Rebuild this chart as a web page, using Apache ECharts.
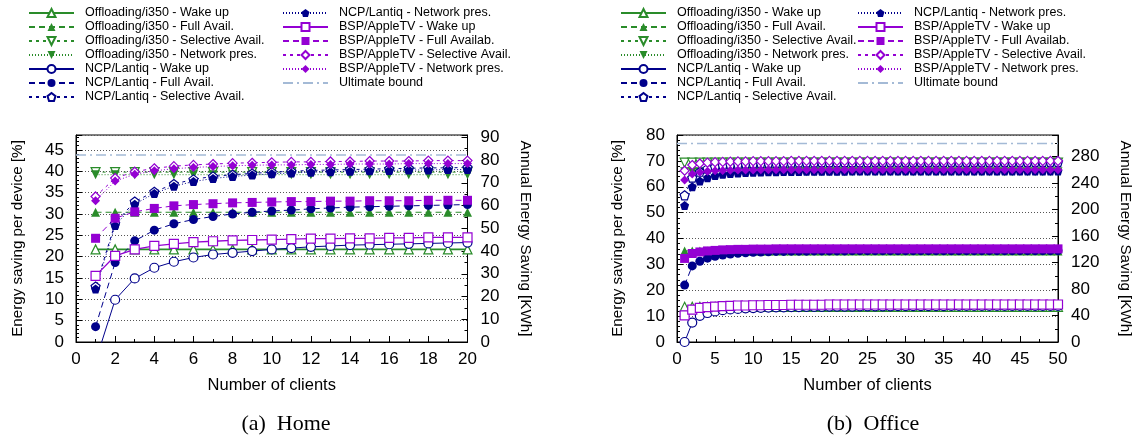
<!DOCTYPE html>
<html>
<head>
<meta charset="utf-8">
<script src="https://cdn.jsdelivr.net/npm/echarts@6/dist/echarts.min.js"></script>
<style>
  html, body { margin: 0; padding: 0; background: #fff; }
  #chart { width: 1140px; height: 442px; }
</style>
</head>
<body>
<div id="chart"></div>
<script>
// ---- data: Home (a) ----
var homeX = [1, 2, 3, 4, 5, 6, 7, 8, 9, 10, 11, 12, 13, 14, 15, 16, 17, 18, 19, 20];
var homeOffWake = [21.7, 21.7, 21.7, 21.7, 21.7, 21.7, 21.7, 21.7, 21.7, 21.7, 21.7, 21.7, 21.7, 21.7, 21.7, 21.7, 21.7, 21.7, 21.7, 21.7];
var homeOffFull = [30.4, 30.4, 30.4, 30.4, 30.4, 30.4, 30.4, 30.4, 30.4, 30.4, 30.4, 30.4, 30.4, 30.4, 30.4, 30.4, 30.4, 30.4, 30.4, 30.4];
var homeOffSel = [39.8, 39.8, 39.8, 39.8, 39.8, 39.8, 39.8, 39.8, 39.8, 39.8, 39.8, 39.8, 39.8, 39.8, 39.8, 39.8, 39.8, 39.8, 39.8, 39.8];
var homeOffNet = [39.2, 39.2, 39.2, 39.2, 39.2, 39.2, 39.2, 39.2, 39.2, 39.2, 39.2, 39.2, 39.2, 39.2, 39.2, 39.2, 39.2, 39.2, 39.2, 39.2];
var homeNcpWake = [-4.5, 9.9, 14.9, 17.4, 18.8, 19.8, 20.5, 20.9, 21.3, 21.7, 22.0, 22.3, 22.5, 22.7, 22.8, 22.9, 23.0, 23.1, 23.2, 23.3];
var homeNcpFull = [3.6, 18.6, 23.7, 26.2, 27.7, 28.7, 29.4, 30.0, 30.4, 30.7, 30.9, 31.2, 31.4, 31.6, 31.7, 31.8, 31.9, 32.0, 32.1, 32.2];
var homeNcpSel = [13.0, 27.8, 32.9, 35.2, 37.0, 38.1, 38.8, 39.2, 39.5, 39.8, 40.0, 40.2, 40.3, 40.4, 40.5, 40.6, 40.7, 40.8, 40.8, 40.9];
var homeNcpNet = [12.4, 27.3, 32.3, 34.8, 36.5, 37.6, 38.3, 38.8, 39.1, 39.4, 39.6, 39.8, 39.9, 40.0, 40.1, 40.2, 40.3, 40.3, 40.4, 40.4];
var homeBspWake = [15.5, 20.2, 21.7, 22.5, 23.0, 23.4, 23.6, 23.8, 23.9, 24.0, 24.1, 24.2, 24.2, 24.3, 24.3, 24.4, 24.4, 24.5, 24.5, 24.5];
var homeBspFull = [24.3, 29.0, 30.5, 31.3, 31.9, 32.2, 32.4, 32.6, 32.7, 32.8, 32.9, 32.9, 33.0, 33.0, 33.1, 33.1, 33.1, 33.2, 33.2, 33.2];
var homeBspSel = [34.1, 38.4, 39.9, 40.7, 41.2, 41.5, 41.7, 41.9, 42.0, 42.1, 42.2, 42.2, 42.3, 42.3, 42.4, 42.4, 42.4, 42.5, 42.5, 42.5];
var homeBspNet = [33.1, 37.7, 39.3, 40.1, 40.6, 40.9, 41.1, 41.3, 41.4, 41.5, 41.5, 41.6, 41.6, 41.7, 41.7, 41.7, 41.8, 41.8, 41.8, 41.8];
var homeBound = 43.8;

// ---- data: Office (b) ----
var officeX = [1, 2, 3, 4, 5, 6, 7, 8, 9, 10,
  11, 12, 13, 14, 15, 16, 17, 18, 19, 20,
  21, 22, 23, 24, 25, 26, 27, 28, 29, 30,
  31, 32, 33, 34, 35, 36, 37, 38, 39, 40,
  41, 42, 43, 44, 45, 46, 47, 48, 49, 50];
var officeOffWake = [13.6, 13.6, 13.6, 13.6, 13.6, 13.6, 13.6, 13.6, 13.6, 13.6,
  13.6, 13.6, 13.6, 13.6, 13.6, 13.6, 13.6, 13.6, 13.6, 13.6,
  13.6, 13.6, 13.6, 13.6, 13.6, 13.6, 13.6, 13.6, 13.6, 13.6,
  13.6, 13.6, 13.6, 13.6, 13.6, 13.6, 13.6, 13.6, 13.6, 13.6,
  13.6, 13.6, 13.6, 13.6, 13.6, 13.6, 13.6, 13.6, 13.6, 13.6];
var officeOffFull = [35.2, 35.2, 35.2, 35.2, 35.2, 35.2, 35.2, 35.2, 35.2, 35.2,
  35.2, 35.2, 35.2, 35.2, 35.2, 35.2, 35.2, 35.2, 35.2, 35.2,
  35.2, 35.2, 35.2, 35.2, 35.2, 35.2, 35.2, 35.2, 35.2, 35.2,
  35.2, 35.2, 35.2, 35.2, 35.2, 35.2, 35.2, 35.2, 35.2, 35.2,
  35.2, 35.2, 35.2, 35.2, 35.2, 35.2, 35.2, 35.2, 35.2, 35.2];
var officeOffSel = [69.3, 69.3, 69.3, 69.3, 69.3, 69.3, 69.3, 69.3, 69.3, 69.3,
  69.3, 69.3, 69.3, 69.3, 69.3, 69.3, 69.3, 69.3, 69.3, 69.3,
  69.3, 69.3, 69.3, 69.3, 69.3, 69.3, 69.3, 69.3, 69.3, 69.3,
  69.3, 69.3, 69.3, 69.3, 69.3, 69.3, 69.3, 69.3, 69.3, 69.3,
  69.3, 69.3, 69.3, 69.3, 69.3, 69.3, 69.3, 69.3, 69.3, 69.3];
var officeOffNet = [65.8, 65.8, 65.8, 65.8, 65.8, 65.8, 65.8, 65.8, 65.8, 65.8,
  65.8, 65.8, 65.8, 65.8, 65.8, 65.8, 65.8, 65.8, 65.8, 65.8,
  65.8, 65.8, 65.8, 65.8, 65.8, 65.8, 65.8, 65.8, 65.8, 65.8,
  65.8, 65.8, 65.8, 65.8, 65.8, 65.8, 65.8, 65.8, 65.8, 65.8,
  65.8, 65.8, 65.8, 65.8, 65.8, 65.8, 65.8, 65.8, 65.8, 65.8];
var officeNcpWake = [0.0, 7.5, 10.1, 11.2, 11.8, 12.3, 12.6, 12.8, 13.0, 13.1,
  13.2, 13.3, 13.4, 13.4, 13.5, 13.5, 13.6, 13.6, 13.6, 13.7,
  13.7, 13.7, 13.7, 13.8, 13.8, 13.8, 13.8, 13.8, 13.9, 13.9,
  13.9, 13.9, 13.9, 13.9, 13.9, 14.0, 14.0, 14.0, 14.0, 14.0,
  14.0, 14.0, 14.0, 14.0, 14.0, 14.0, 14.0, 14.0, 14.0, 14.0];
var officeNcpFull = [22.0, 29.4, 31.2, 32.4, 33.1, 33.6, 34.0, 34.3, 34.5, 34.7,
  34.8, 34.9, 35.0, 35.0, 35.1, 35.1, 35.1, 35.2, 35.2, 35.2,
  35.2, 35.2, 35.3, 35.3, 35.3, 35.3, 35.3, 35.3, 35.3, 35.3,
  35.3, 35.3, 35.3, 35.3, 35.3, 35.3, 35.3, 35.3, 35.3, 35.3,
  35.3, 35.3, 35.3, 35.3, 35.3, 35.3, 35.3, 35.3, 35.3, 35.3];
var officeNcpSel = [56.7, 63.5, 65.8, 67.0, 67.7, 68.2, 68.5, 68.7, 68.9, 69.0,
  69.1, 69.2, 69.2, 69.3, 69.3, 69.4, 69.4, 69.4, 69.5, 69.5,
  69.5, 69.5, 69.5, 69.5, 69.5, 69.6, 69.6, 69.6, 69.6, 69.6,
  69.6, 69.6, 69.6, 69.6, 69.6, 69.6, 69.6, 69.6, 69.6, 69.6,
  69.6, 69.6, 69.6, 69.6, 69.6, 69.6, 69.6, 69.6, 69.6, 69.6];
var officeNcpNet = [52.8, 60.0, 62.2, 63.5, 64.3, 64.8, 65.1, 65.3, 65.5, 65.6,
  65.7, 65.8, 65.8, 65.9, 65.9, 65.9, 66.0, 66.0, 66.0, 66.0,
  66.0, 66.0, 66.1, 66.1, 66.1, 66.1, 66.1, 66.1, 66.1, 66.1,
  66.1, 66.1, 66.1, 66.1, 66.1, 66.1, 66.1, 66.1, 66.1, 66.1,
  66.1, 66.1, 66.1, 66.1, 66.1, 66.1, 66.1, 66.1, 66.1, 66.1];
var officeBspWake = [10.3, 12.5, 13.2, 13.5, 13.7, 13.9, 14.0, 14.1, 14.1, 14.2,
  14.2, 14.3, 14.3, 14.3, 14.4, 14.4, 14.4, 14.4, 14.4, 14.5,
  14.5, 14.5, 14.5, 14.5, 14.5, 14.5, 14.5, 14.5, 14.5, 14.5,
  14.5, 14.5, 14.5, 14.5, 14.5, 14.5, 14.5, 14.5, 14.5, 14.5,
  14.5, 14.5, 14.5, 14.5, 14.5, 14.5, 14.5, 14.5, 14.5, 14.5];
var officeBspFull = [32.3, 34.2, 34.8, 35.2, 35.4, 35.6, 35.7, 35.8, 35.8, 35.9,
  35.9, 35.9, 36.0, 36.0, 36.0, 36.0, 36.0, 36.0, 36.0, 36.0,
  36.0, 36.0, 36.0, 36.0, 36.0, 36.0, 36.0, 36.0, 36.0, 36.0,
  36.0, 36.0, 36.0, 36.0, 36.0, 36.0, 36.0, 36.0, 36.0, 36.0,
  36.0, 36.0, 36.0, 36.0, 36.0, 36.0, 36.0, 36.0, 36.0, 36.0];
var officeBspSel = [66.2, 68.4, 69.0, 69.3, 69.5, 69.6, 69.7, 69.8, 69.8, 69.9,
  69.9, 69.9, 69.9, 69.9, 70.0, 70.0, 70.0, 70.0, 70.0, 70.0,
  70.0, 70.0, 70.0, 70.0, 70.0, 70.0, 70.0, 70.0, 70.0, 70.0,
  70.0, 70.0, 70.0, 70.0, 70.0, 70.0, 70.0, 70.0, 70.0, 70.0,
  70.0, 70.0, 70.0, 70.0, 70.0, 70.0, 70.0, 70.0, 70.0, 70.0];
var officeBspNet = [62.6, 64.9, 65.6, 66.0, 66.2, 66.3, 66.4, 66.5, 66.5, 66.5,
  66.6, 66.6, 66.6, 66.6, 66.6, 66.6, 66.6, 66.6, 66.6, 66.6,
  66.6, 66.6, 66.6, 66.6, 66.6, 66.6, 66.6, 66.6, 66.6, 66.6,
  66.6, 66.6, 66.6, 66.6, 66.6, 66.6, 66.6, 66.6, 66.6, 66.6,
  66.6, 66.6, 66.6, 66.6, 66.6, 66.6, 66.6, 66.6, 66.6, 66.6];
var officeBound = 76.7;

var names = [
  'Offloading/i350 - Wake up', 'Offloading/i350 - Full Avail.', 'Offloading/i350 - Selective Avail.', 'Offloading/i350 - Network pres.',
  'NCP/Lantiq - Wake up', 'NCP/Lantiq - Full Avail.', 'NCP/Lantiq - Selective Avail.', 'NCP/Lantiq - Network pres.',
  'BSP/AppleTV - Wake up', 'BSP/AppleTV - Full Availab.', 'BSP/AppleTV - Selective Avail.', 'BSP/AppleTV - Network pres.',
  'Ultimate bound'
];

var green = '#2a8c2a', navy = '#00008b', purple = '#9400d3', bound = '#a4bad6';
var font = 'Liberation Sans, Arial, Helvetica, sans-serif';
var serif = 'Liberation Serif, Times New Roman, serif';

var downTri = 'path://M0,0L10,0L5,9Z';
var penta = 'path://M5,0L10,3.7L8.1,9.5L1.9,9.5L0,3.7Z';

// style of each curve: colour, dash, marker, open marker?
var looks = [
  { c: green, dash: 'solid', sym: 'triangle', open: true, w: 1.6 },
  { c: green, dash: [6, 4], sym: 'triangle', open: false, w: 1 },
  { c: green, dash: [3, 4], sym: downTri, open: true, w: 1 },
  { c: green, dash: [1, 2], sym: downTri, open: false, w: 1 },
  { c: navy, dash: 'solid', sym: 'circle', open: true, w: 1 },
  { c: navy, dash: [6, 4], sym: 'circle', open: false, w: 1 },
  { c: navy, dash: [3, 4], sym: penta, open: true, w: 1 },
  { c: navy, dash: [1, 2], sym: penta, open: false, w: 1 },
  { c: purple, dash: 'solid', sym: 'rect', open: true, w: 1.3 },
  { c: purple, dash: [6, 4], sym: 'rect', open: false, w: 1 },
  { c: purple, dash: [3, 4], sym: 'diamond', open: true, w: 1 },
  { c: purple, dash: [1, 2], sym: 'diamond', open: false, w: 1 }
];

function pairs(xs, ys) {
  var out = [];
  for (var i = 0; i < xs.length; i++) out.push([xs[i], ys[i]]);
  return out;
}

function makeSeries(xs, sets, boundVal, xMax, gi, symSize) {
  var list = [];
  sets.forEach(function(ys, i) {
    var lk = looks[i];
    list.push({
      name: names[i],
      type: 'line',
      xAxisIndex: gi,
      yAxisIndex: gi * 2,
      data: pairs(xs, ys),
      symbol: lk.sym,
      symbolSize: symSize,
      clip: true,
      lineStyle: { color: lk.c, width: lk.w, type: lk.dash },
      itemStyle: lk.open ?
        { color: '#fff', borderColor: lk.c, borderWidth: 1.2 } :
        { color: lk.c, borderColor: lk.c, borderWidth: 0 }
    });
  });
  // bound line spans the whole x range
  list.push({
    name: names[12],
    type: 'line',
    xAxisIndex: gi,
    yAxisIndex: gi * 2,
    data: [[0, boundVal], [xMax, boundVal]],
    symbol: 'none',
    lineStyle: { color: bound, width: 1.5, type: [10, 4, 2, 4] },
    itemStyle: { color: 'rgba(0,0,0,0)', borderWidth: 0 }
  });
  return list;
}

var homeSets = [homeOffWake, homeOffFull, homeOffSel, homeOffNet, homeNcpWake, homeNcpFull, homeNcpSel, homeNcpNet,
  homeBspWake, homeBspFull, homeBspSel, homeBspNet];
var officeSets = [officeOffWake, officeOffFull, officeOffSel, officeOffNet, officeNcpWake, officeNcpFull, officeNcpSel, officeNcpNet,
  officeBspWake, officeBspFull, officeBspSel, officeBspNet];

var tickText = { color: '#000', fontSize: 17, fontFamily: font };
var xNameText = { color: '#000', fontSize: 16.5, fontFamily: font };
var yNameText = { color: '#000', fontSize: 15.2, fontFamily: font };
var axisLine = { show: true, lineStyle: { color: '#000', width: 1 } };
var dotted = { show: true, lineStyle: { color: '#555', type: [1, 2], width: 1 } };

function xAxis(gi, max, step) {
  return {
    type: 'value', gridIndex: gi, min: 0, max: max, interval: step,
    name: 'Number of clients', nameLocation: 'middle', nameGap: 35, nameTextStyle: xNameText,
    axisLine: axisLine,
    axisTick: { inside: true, length: 6, lineStyle: { color: '#000' } },
    minorTick: { show: true, splitNumber: 2, length: 3, lineStyle: { color: '#000' } },
    axisLabel: Object.assign({ margin: 9 }, tickText),
    splitLine: { show: false }
  };
}

function yLeft(gi, max, step, minor, gap, showMax) {
  return {
    type: 'value', gridIndex: gi, position: 'left', min: 0, max: max, interval: step,
    name: 'Energy saving per device [%]', nameLocation: 'middle', nameGap: gap, nameTextStyle: yNameText,
    axisLine: axisLine,
    axisTick: { inside: true, length: 6, lineStyle: { color: '#000' } },
    minorTick: { show: true, splitNumber: minor, length: 3, lineStyle: { color: '#000' } },
    axisLabel: Object.assign({ margin: 12, showMaxLabel: showMax }, tickText),
    splitLine: dotted
  };
}

function yRight(gi, max, step, gap) {
  return {
    type: 'value', gridIndex: gi, position: 'right', min: 0, max: max, interval: step,
    name: 'Annual Energy Saving [KWh]', nameLocation: 'middle', nameGap: gap, nameRotate: -90,
    nameTextStyle: yNameText,
    axisLine: axisLine,
    axisTick: { inside: true, length: 6, lineStyle: { color: '#000' } },
    minorTick: { show: true, splitNumber: 2, length: 3, lineStyle: { color: '#000' } },
    axisLabel: Object.assign({ margin: 13, showMaxLabel: false }, tickText),
    splitLine: { show: false }
  };
}

function legend(left, items) {
  return {
    left: left, top: 6, padding: 0, orient: 'vertical', itemGap: 0,
    itemWidth: 45, itemHeight: 10,
    textStyle: { color: '#000', fontSize: 12.5, fontFamily: font, lineHeight: 14, padding: [0, 0, 0, 6] },
    data: items, selectedMode: false
  };
}

var chart = echarts.init(document.getElementById('chart'), null, { renderer: 'canvas' });
chart.setOption({
  animation: false,
  backgroundColor: '#fff',
  legend: [
    legend(28, names.slice(0, 7)),
    legend(282, names.slice(7, 13)),
    legend(620, names.slice(0, 7)),
    legend(857, names.slice(7, 13))
  ],
  grid: [
    { left: 76, top: 135, width: 391.5, height: 207, show: true, borderColor: '#000', borderWidth: 1, backgroundColor: 'transparent' },
    { left: 677, top: 135, width: 381, height: 207, show: true, borderColor: '#000', borderWidth: 1, backgroundColor: 'transparent' }
  ],
  xAxis: [xAxis(0, 20, 2), xAxis(1, 50, 5)],
  yAxis: [
    yLeft(0, 48.5, 5, 5, 51, false),
    yRight(0, 91, 10, 50),
    yLeft(1, 80, 10, 5, 52, true),
    yRight(1, 312.5, 40, 60)
  ],
  graphic: [
    { type: 'text', x: 286, y: 413, style: { text: '(a)  Home', align: 'center', fontSize: 22, fontFamily: serif, fill: '#000' } },
    { type: 'text', x: 873, y: 413, style: { text: '(b)  Office', align: 'center', fontSize: 22, fontFamily: serif, fill: '#000' } }
  ],
  series: makeSeries(homeX, homeSets, homeBound, 20, 0, 9)
    .concat(makeSeries(officeX, officeSets, officeBound, 50, 1, 9))
});
</script>
</body>
</html>
